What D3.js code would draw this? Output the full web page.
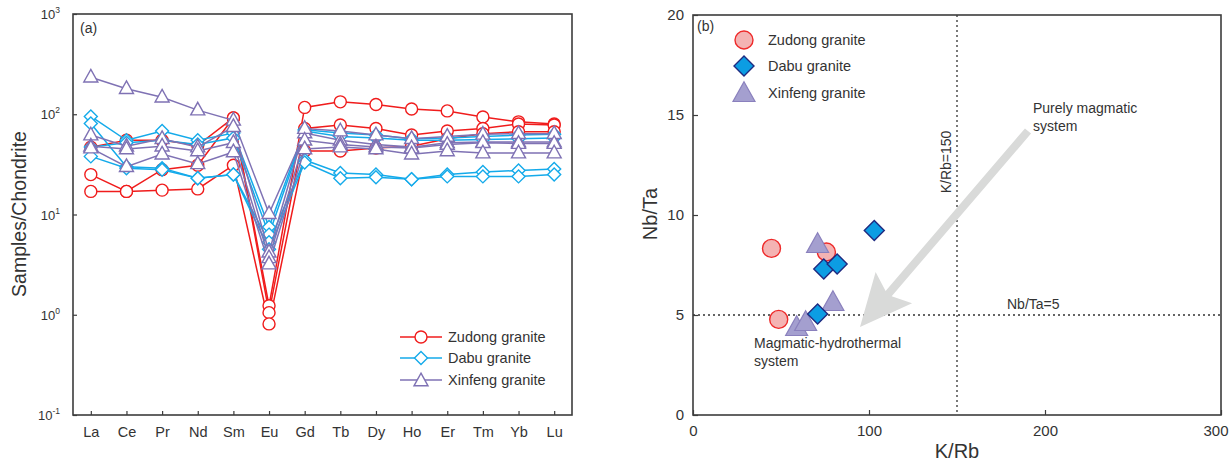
<!DOCTYPE html>
<html><head><meta charset="utf-8">
<script src="https://cdn.jsdelivr.net/npm/d3@7"></script>
<style>body{margin:0;background:#fff}svg{display:block;font-family:Arial,"Liberation Sans",sans-serif}</style>
</head><body><svg id="c" width="1231" height="462"></svg>
<script>
// ---------- Panel (a) data ----------
const elements = ["La","Ce","Pr","Nd","Sm","Eu","Gd","Tb","Dy","Ho","Er","Tm","Yb","Lu"];
const yTicksA = [0.1, 1, 10, 100, 1000];
const yTickExpA = ["-1","0","1","2","3"];
const zudongREE = [
  [47, 55, 55, 49, 92, 1.23, 117, 133, 125, 113, 108, 94, 84, 80],
  [25, 17, 28, 31, 92, 1.05, 72, 78, 72, 62, 68, 72, 80, 78],
  [17, 17, 17.5, 18, 31, 0.81, 43, 43, 46, 48, 57, 64, 67, 67]
];
const dabuREE = [
  [95, 55, 68, 55, 65, 7.5, 70, 65, 62, 57, 58, 60, 62, 63],
  [47, 52, 55, 50, 58, 6.3, 68, 60, 58, 55, 55, 56, 57, 58],
  [81, 30, 29, 23, 25, 5.3, 35, 26, 25, 22.5, 25, 26.5, 27.5, 28.5],
  [38, 29, 28, 23, 25, 4.5, 33, 23, 23.5, 22.5, 24, 24, 24, 25]
];
const xinfengREE = [
  [234, 180, 148, 110, 87, 10.2, 65, 55, 50, 47, 52, 53, 53, 53],
  [62, 48, 57, 47, 75, 4.2, 72, 68, 62, 57, 60, 63, 64, 64],
  [48, 45, 48, 43, 52, 3.7, 55, 50, 47, 46, 50, 52, 51, 51],
  [46, 30, 40, 32, 42, 3.2, 45, 47, 45, 40, 43, 41, 41, 41]
];
// ---------- Panel (b) data ----------
const zudongKRb = [44.6, 75.8, 48.7];
const zudongNbTa = [8.33, 8.15, 4.78];
const dabuKRb = [103, 74.3, 81.9, 70.8];
const dabuNbTa = [9.22, 7.3, 7.55, 5.05];
const xinfengKRb = [70.8, 79.5, 58.9, 64];
const xinfengNbTa = [8.5, 5.6, 4.35, 4.6];
const xTicksB = [0, 100, 200, 300];
const yTicksB = [0, 5, 10, 15, 20];
const groups = ["Zudong granite", "Dabu granite", "Xinfeng granite"];

const svg = d3.select("#c");
const axisCol = "#3c3c3c", txtCol = "#333";
const red = "#f01c1c", cyan = "#14aaea", purple = "#7f72b4";

// symbol helpers
function circ(g, x, y, r, fill, stroke, sw){ g.append("circle").attr("cx",x).attr("cy",y).attr("r",r).attr("fill",fill).attr("stroke",stroke).attr("stroke-width",sw); }
function diam(g, x, y, r, fill, stroke, sw){ g.append("path").attr("d",`M${x},${y-r}L${x+r},${y}L${x},${y+r}L${x-r},${y}Z`).attr("fill",fill).attr("stroke",stroke).attr("stroke-width",sw).attr("stroke-linejoin","miter"); }
function tri(g, x, y, s, fill, stroke, sw){ const h=s*0.9; g.append("path").attr("d",`M${x},${y-h*0.62}L${x+s/2},${y+h*0.38}L${x-s/2},${y+h*0.38}Z`).attr("fill",fill).attr("stroke",stroke).attr("stroke-width",sw); }

// ================= Panel (a) =================
const ax0=73, ax1=572, ay0=14, ay1=415;
const xA = d3.scalePoint().domain(elements).range([ax0, ax1]).padding(0.5);
const yA = d3.scaleLog().domain([0.1, 1000]).range([ay1, ay0]);
const gA = svg.append("g");

const lineA = d3.line().x((d,i)=>xA(elements[i])).y(d=>yA(d));
const seriesA = [
  {data: zudongREE, col: red, sym: "c"},
  {data: dabuREE, col: cyan, sym: "d"},
  {data: xinfengREE, col: purple, sym: "t"}
];
seriesA.forEach(s=>{
  s.data.forEach(row=>{
    gA.append("path").attr("d", lineA(row)).attr("fill","none").attr("stroke", s.col).attr("stroke-width",1.5);
  });
  s.data.forEach(row=>{
    row.forEach((v,i)=>{
      const x=xA(elements[i]), y=yA(v);
      if(s.sym==="c") circ(gA,x,y,6,"#fff",s.col,1.4);
      else if(s.sym==="d") diam(gA,x,y,6.5,"#fff",s.col,1.4);
      else tri(gA,x,y,14,"#fff",s.col,1.4);
    });
  });
});

// frame
gA.append("rect").attr("x",ax0).attr("y",ay0).attr("width",ax1-ax0).attr("height",ay1-ay0).attr("fill","none").attr("stroke",axisCol).attr("stroke-width",1.6);
// x ticks (inward)
const xAxA = gA.append("g").attr("transform",`translate(0,${ay1})`).call(d3.axisBottom(xA).tickSizeInner(-4).tickSizeOuter(0).tickPadding(12));
xAxA.select(".domain").remove();
xAxA.selectAll("line").attr("stroke",axisCol).attr("stroke-width",1.2);
xAxA.selectAll("text").attr("font-size",14.5).attr("fill",txtCol).attr("font-family","Arial,'Liberation Sans',sans-serif");
// y ticks (inward), custom labels
const yAxA = gA.append("g").attr("transform",`translate(${ax0},0)`).call(d3.axisLeft(yA).tickValues(yTicksA).tickSizeInner(-4).tickSizeOuter(0).tickFormat(""));
yAxA.select(".domain").remove();
yAxA.selectAll("line").attr("stroke",axisCol).attr("stroke-width",1.2);
yTicksA.forEach((v,i)=>{
  const t = gA.append("text").attr("x",ax0-13).attr("y",yA(v)+5).attr("text-anchor","end").attr("fill",txtCol).attr("font-size",13);
  t.append("tspan").text("10");
  t.append("tspan").attr("font-size",8.5).attr("dy",-6).text(yTickExpA[i]);
});
gA.append("text").attr("transform","translate(26,214) rotate(-90)").attr("text-anchor","middle").attr("font-size",19.5).attr("fill",txtCol).text("Samples/Chondrite");
gA.append("text").attr("x",80).attr("y",33).attr("font-size",14).attr("fill",txtCol).text("(a)");

// legend (a)
const legA = gA.append("g");
const legY = [337, 358, 380];
[red, cyan, purple].forEach((c,i)=>{
  legA.append("line").attr("x1",400).attr("x2",442).attr("y1",legY[i]).attr("y2",legY[i]).attr("stroke",c).attr("stroke-width",1.5);
  if(i===0) circ(legA,421,legY[i],6,"#fff",c,1.4);
  else if(i===1) diam(legA,421,legY[i],6.5,"#fff",c,1.4);
  else tri(legA,421,legY[i]+1,14,"#fff",c,1.4);
  legA.append("text").attr("x",448).attr("y",legY[i]+5).attr("font-size",14.5).attr("fill",txtCol).text(groups[i]);
});

// ================= Panel (b) =================
const bx0=693, bx1=1221, by0=15, by1=415;
const xB = d3.scaleLinear().domain([0,300]).range([bx0,bx1]);
const yB = d3.scaleLinear().domain([0,20]).range([by1,by0]);
const gB = svg.append("g");

// dotted reference lines
gB.append("line").attr("x1",xB(150)).attr("x2",xB(150)).attr("y1",by0).attr("y2",by1).attr("stroke","#333").attr("stroke-width",1.3).attr("stroke-dasharray","2,3");
gB.append("line").attr("x1",bx0).attr("x2",bx1).attr("y1",yB(5)).attr("y2",yB(5)).attr("stroke","#333").attr("stroke-width",1.3).attr("stroke-dasharray","2,3");

// arrow
const arrowStart = [1028,131], arrowTip = [860,327];
(function(){
  const [sx,sy]=arrowStart, [tx,ty]=arrowTip;
  const dx=tx-sx, dy=ty-sy, L=Math.hypot(dx,dy), ux=dx/L, uy=dy/L, px=-uy, py=ux;
  const headL=52, headW=24, shaftW=4;
  const bx=tx-ux*headL, by=ty-uy*headL;
  const pts=[[sx+px*shaftW,sy+py*shaftW],[bx+ux*8+px*shaftW,by+uy*8+py*shaftW],[bx+px*headW,by+py*headW],[tx,ty],[bx-px*headW,by-py*headW],[bx+ux*8-px*shaftW,by+uy*8-py*shaftW],[sx-px*shaftW,sy-py*shaftW]];
  gB.append("path").attr("d","M"+pts.map(p=>p.join(",")).join("L")+"Z").attr("fill","#d9dad9");
})();

// frame + axes
gB.append("rect").attr("x",bx0).attr("y",by0).attr("width",bx1-bx0).attr("height",by1-by0).attr("fill","none").attr("stroke",axisCol).attr("stroke-width",1.6);
const xAxB = gB.append("g").attr("transform",`translate(0,${by1})`).call(d3.axisBottom(xB).tickValues(xTicksB).tickSizeInner(-5).tickSizeOuter(0).tickPadding(10));
xAxB.select(".domain").remove();
xAxB.selectAll("line").attr("stroke",axisCol).attr("stroke-width",1.2);
xAxB.selectAll("text").attr("font-size",15).attr("fill",txtCol).attr("font-family","Arial,'Liberation Sans',sans-serif");
xAxB.selectAll("text").filter(d=>d===300).attr("text-anchor","end").attr("dx",7);
const yAxB = gB.append("g").attr("transform",`translate(${bx0},0)`).call(d3.axisLeft(yB).tickValues(yTicksB).tickSizeInner(-5).tickSizeOuter(0).tickPadding(9));
yAxB.select(".domain").remove();
yAxB.selectAll("line").attr("stroke",axisCol).attr("stroke-width",1.2);
yAxB.selectAll("text").attr("font-size",15).attr("fill",txtCol).attr("font-family","Arial,'Liberation Sans',sans-serif");

gB.append("text").attr("transform","translate(657,214) rotate(-90)").attr("text-anchor","middle").attr("font-size",20).attr("fill",txtCol).text("Nb/Ta");
gB.append("text").attr("x",xB(150)).attr("y",458).attr("text-anchor","middle").attr("font-size",20).attr("fill",txtCol).text("K/Rb");
gB.append("text").attr("x",697).attr("y",31).attr("font-size",14).attr("fill",txtCol).text("(b)");
gB.append("text").attr("transform",`translate(${xB(150)-6},162) rotate(-90)`).attr("text-anchor","middle").attr("font-size",14).attr("fill",txtCol).text("K/Rb=150");
gB.append("text").attr("x",1007).attr("y",309).attr("font-size",14).attr("fill",txtCol).text("Nb/Ta=5");
gB.append("text").attr("x",1033).attr("y",113).attr("font-size",14).attr("fill",txtCol).text("Purely magmatic");
gB.append("text").attr("x",1033).attr("y",131).attr("font-size",14).attr("fill",txtCol).text("system");
gB.append("text").attr("x",754).attr("y",348).attr("font-size",14).attr("fill",txtCol).text("Magmatic-hydrothermal");
gB.append("text").attr("x",754).attr("y",366).attr("font-size",14).attr("fill",txtCol).text("system");

// points
const zFill="#f4b3b3", zStroke="#ee2a2a", dFill="#0c9de3", dStroke="#1f2a80", xFill="#a49fcf", xStroke="#8a80bd";
zudongKRb.forEach((k,i)=>circ(gB,xB(k),yB(zudongNbTa[i]),9,zFill,zStroke,1.4));
xinfengKRb.forEach((k,i)=>tri(gB,xB(k),yB(xinfengNbTa[i]),22,xFill,xStroke,1.2));
dabuKRb.forEach((k,i)=>diam(gB,xB(k),yB(dabuNbTa[i]),10,dFill,dStroke,1.4));

// legend (b)
const legBY=[40,66,93];
circ(gB,744,legBY[0],9,zFill,zStroke,1.4);
diam(gB,744,legBY[1],10,dFill,dStroke,1.4);
tri(gB,744,legBY[2]+1,22,xFill,xStroke,1.2);
groups.forEach((g,i)=>gB.append("text").attr("x",768).attr("y",legBY[i]+5).attr("font-size",14.5).attr("fill",txtCol).text(g));
</script></body></html>
